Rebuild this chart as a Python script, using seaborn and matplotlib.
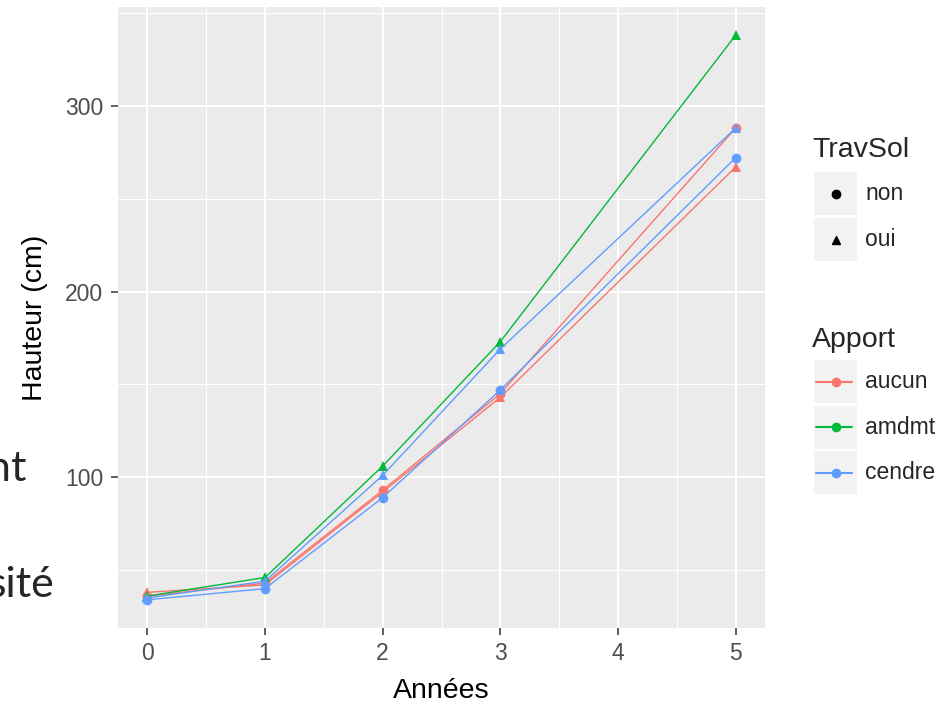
import numpy as np
import pandas as pd
import matplotlib.pyplot as plt
import seaborn as sns
from matplotlib.lines import Line2D
from matplotlib.patches import Rectangle
from matplotlib.ticker import MultipleLocator

# --- data ---
years = [0, 1, 2, 3, 5]
aucun_non = [36, 43, 93, 145, 288]
aucun_oui = [38, 42, 92, 143, 267]
amdmt_oui = [36, 46, 106, 173, 338]
cendre_non = [34, 40, 89, 147, 272]
cendre_oui = [35, 44, 101, 169, 288]

apport_levels = ["aucun", "amdmt", "cendre"]
travsol_levels = ["non", "oui"]
palette = dict(zip(apport_levels, ["#F8766D", "#00BA38", "#619CFF"]))
markers = {"non": "o", "oui": "^"}

series = {
    ("aucun", "non"): aucun_non,
    ("aucun", "oui"): aucun_oui,
    ("amdmt", "oui"): amdmt_oui,
    ("cendre", "non"): cendre_non,
    ("cendre", "oui"): cendre_oui,
}
rows = []
for (app, trav), vals in series.items():
    for yr, v in zip(years, vals):
        rows.append({"Annees": yr, "Hauteur": v, "Apport": app, "TravSol": trav})
df = pd.DataFrame(rows)

W, H = 951, 707
def fx(x): return x / W
def fy(y): return 1 - y / H

sns.set_theme(style="darkgrid")
plt.rcParams["font.family"] = ["Liberation Sans", "DejaVu Sans"]

fig = plt.figure(figsize=(W / 100, H / 100), dpi=100)
fig.patch.set_facecolor("white")
ax = fig.add_axes([fx(118), fy(628), (765 - 118) / W, (628 - 7) / H])
ax.set_facecolor("#EBEBEB")

sns.lineplot(data=df, x="Annees", y="Hauteur", hue="Apport", style="TravSol",
             hue_order=apport_levels, style_order=travsol_levels,
             palette=palette, markers=markers, dashes=False, legend=False,
             linewidth=1.0, markersize=7, markeredgewidth=0, ax=ax)

# ggplot-like scales (5% expansion)
lo, hi = df["Hauteur"].min(), df["Hauteur"].max()
pad = 0.05 * (hi - lo)
ax.set_ylim(lo - pad, hi + pad)
ax.set_xlim(-0.25, 5.25)
ax.set_xticks(range(6))
ax.set_yticks([100, 200, 300])
ax.xaxis.set_minor_locator(MultipleLocator(0.5))
ax.yaxis.set_minor_locator(MultipleLocator(50))
ax.grid(which="major", color="white", linewidth=1.5)
ax.grid(which="minor", color="white", linewidth=0.75)
ax.set_axisbelow(True)
for s in ax.spines.values():
    s.set_visible(False)
ax.tick_params(which="major", bottom=True, left=True, length=5, width=1.1,
               color="#333333", labelsize=16.5, labelcolor="#4D4D4D")
ax.tick_params(axis="x", pad=5)
ax.tick_params(axis="y", pad=5.5)
ax.tick_params(which="minor", length=0)

ax.set_xlabel("Années", fontsize=20.5, color="black")
ax.set_ylabel("Hauteur (cm)", fontsize=20.5, color="black")
ax.xaxis.set_label_coords(0.5, -0.08)
ax.yaxis.set_label_coords(-0.108, 0.5)

# --- legends drawn by hand, ggplot style ---
def key_box(top):
    fig.add_artist(Rectangle((fx(814), fy(top + 43)), 43 / W, 43 / H,
                             transform=fig.transFigure, facecolor="#F2F2F2",
                             edgecolor="none"))

fig.text(fx(812), fy(150), "TravSol", fontsize=20.5, va="center", ha="left")
for i, lev in enumerate(travsol_levels):
    top = 172 + i * 46
    cy = top + 21.5
    key_box(top)
    fig.add_artist(Line2D([fx(835.5)], [fy(cy)], marker=markers[lev], color="black",
                          markersize=6, linestyle="none", transform=fig.transFigure))
    fig.text(fx(865), fy(cy), lev, fontsize=16.5, va="center", ha="left")

fig.text(fx(812), fy(340), "Apport", fontsize=20.5, va="center", ha="left")
for i, lev in enumerate(apport_levels):
    top = 360 + i * 45.5
    cy = top + 21.5
    key_box(top)
    fig.add_artist(Line2D([fx(816), fx(852)], [fy(cy), fy(cy)], color=palette[lev],
                          linewidth=1.5, transform=fig.transFigure))
    fig.add_artist(Line2D([fx(835.5)], [fy(cy)], marker="o", color=palette[lev],
                          markersize=7, markeredgewidth=0, linestyle="none",
                          transform=fig.transFigure))
    fig.text(fx(865), fy(cy), lev, fontsize=16.5, va="center", ha="left")

# slide text cut off at the left edge (as in the reference)
fig.text(fx(26), fy(481), "nt", fontsize=31, ha="right", va="baseline",
         family=["Lato", "DejaVu Sans"])
fig.text(fx(54), fy(597), "sité", fontsize=31, ha="right", va="baseline",
         family=["Lato", "DejaVu Sans"])

fig.savefig("out.png", dpi=100)
